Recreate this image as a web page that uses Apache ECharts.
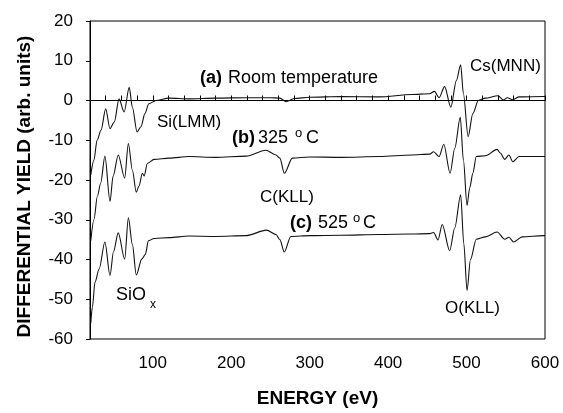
<!DOCTYPE html>
<html>
<head>
<meta charset="utf-8">
<script src="https://cdn.jsdelivr.net/npm/echarts@6/dist/echarts.min.js"></script>
<style>
html,body{margin:0;padding:0;background:#fff;}
#chart{width:563px;height:413px;}
</style>
</head>
<body>
<div id="chart"></div>
<script>
// ---- Data ----
var energyA = [21,25,29,34,40,45.5,51,57,63.5,70,74,80,85,90,95,104,121,146,180,220,250,262,270,280,300,340,389,430,453,459,465,472,480,487,492.5,496,502,508,515,524,540,547,552,559,567,598,600];
var yieldA  = [-18.7,-15,-10,-7.5,-2.1,-7.1,-5.4,0.4,-2.9,3.3,-1.7,-7.9,-6.6,-3.3,-0.8,0,0.6,0.4,0.6,0.7,0.7,0.6,-0.3,0.5,0.8,1.0,0.9,1.5,1.7,2.3,0.7,3.5,-1.7,5,9.0,1.7,-9.1,-3.3,0,0.6,1.2,0.1,0.7,0.2,0.9,1.0,1.0];

var energyB = [21,25,29.4,33.6,39,45.5,49.4,56,64.2,68.9,74,79,82.4,86.8,89,93.2,101.7,121,146,180,219,244,257,262,267.7,278,300,340,389,430,453,458,465,471,479,485,492,496,500.6,504,508,512.4,524,539,543,548.7,554,559,567,598,600];
var yieldB  = [-35.3,-30,-24.1,-20.8,-14,-25.4,-19.1,-13.7,-19.5,-10.8,-17.5,-23.1,-21.5,-18.3,-19,-15.8,-14.8,-14.5,-14.1,-14.3,-14.0,-12.5,-13.7,-14.5,-18.3,-14.5,-14.2,-14.3,-14.1,-13.7,-13.5,-12.9,-14.1,-11.0,-18.3,-12,-4.2,-15,-26.4,-22,-18.3,-14.1,-13.9,-12.3,-13.2,-14.8,-13.7,-15.4,-14.1,-14.1,-14.1];

var energyC = [21,23,26.4,31.6,39,45.5,50,56,64.2,68.9,74,79,86,90.6,94.4,101.7,121,146,180,219,245,257,262,267.7,276,300,340,389,430,453,458,463.6,469,478.5,485,492.5,496.5,500.6,505,512.4,524,539,548.7,554,560,571,598,600];
var yieldC  = [-56,-52,-45.7,-42.4,-35.6,-44,-38,-33.3,-39.9,-29.5,-36.2,-43.9,-39.9,-38.7,-35.3,-34.7,-34.5,-34.1,-34.2,-34.0,-32.6,-33.7,-35,-38.1,-34.2,-34.0,-33.9,-33.7,-33.6,-33.5,-33.2,-35.1,-31.2,-37.8,-32,-23.7,-36,-47.8,-40,-34.9,-34.3,-33.1,-34.9,-34.4,-35.6,-34.3,-34.0,-34.0];

var xMin = 20, xMax = 600, xTickStep = 20, xLabelStep = 100;
var yMin = -60, yMax = 20, yTickStep = 10;

function pairs(xs, ys){ return xs.map(function(x,i){ return [x, ys[i]]; }); }

var FONT = '"Liberation Sans", Arial, sans-serif';
var chart = echarts.init(document.getElementById('chart'), null, {renderer:'canvas'});

function lineSeries(name, xs, ys){
  return {
    name: name, type: 'line', data: pairs(xs, ys),
    showSymbol: false, smooth: 0.3, smoothMonotone: 'x',
    lineStyle: {color: '#111', width: 1.1},
    silent: true, animation: false
  };
}

function txt(left, top, t, size, weight){
  return {type:'text', left:left, top:top, silent:true,
    style:{text:t, fill:'#000', font: (weight||'normal') + ' ' + size + 'px ' + FONT}};
}

chart.setOption({
  animation: false,
  backgroundColor: '#fff',
  grid: {left: 90, right: 18, top: 21, bottom: 71, show: true, borderColor: '#000', borderWidth: 1},
  xAxis: {
    type: 'value', min: xMin, max: xMax, interval: xTickStep,
    axisLine: {lineStyle: {color: '#000', width: 1}},
    axisTick: {inside: true, length: 5, lineStyle: {color: '#000'}},
    axisLabel: {color: '#000', fontSize: 17, fontFamily: FONT, margin: 16,
      formatter: function(v){ return (v % xLabelStep === 0) ? String(v) : ''; }},
    splitLine: {show: false},
    name: 'ENERGY (eV)', nameLocation: 'middle', nameGap: 50,
    nameTextStyle: {color: '#000', fontSize: 19, fontWeight: 'bold', fontFamily: FONT}
  },
  yAxis: {
    type: 'value', min: yMin, max: yMax, interval: yTickStep,
    axisLine: {show: true, lineStyle: {color: '#000', width: 1}},
    axisTick: {show: true, inside: false, length: 4, lineStyle: {color: '#000'}},
    axisLabel: {color: '#000', fontSize: 17, fontFamily: FONT, margin: 17},
    splitLine: {show: false},
    name: 'DIFFERENTIAL YIELD (arb. units)', nameLocation: 'middle', nameGap: 56,
    nameTextStyle: {color: '#000', fontSize: 19, fontWeight: 'bold', fontFamily: FONT, padding: [0, 13, 0, 0]}
  },
  series: [
    lineSeries('(a) Room temperature', energyA, yieldA),
    lineSeries('(b) 325 °C', energyB, yieldB),
    lineSeries('(c) 525 °C', energyC, yieldC)
  ],
  graphic: [
    txt(200, 69, '(a)', 18, 'bold'),
    txt(228, 69, 'Room temperature', 18),
    txt(157, 114, 'Si(LMM)', 17),
    txt(232, 129, '(b)', 18, 'bold'),
    txt(258, 129, '325', 18),
    txt(295, 127, 'o', 13),
    txt(306, 129, 'C', 18),
    txt(260, 189, 'C(KLL)', 17),
    txt(290, 214, '(c)', 18, 'bold'),
    txt(318, 214, '525', 18),
    txt(353, 212, 'o', 13),
    txt(363, 214, 'C', 18),
    txt(470, 58, 'Cs(MNN)', 17),
    txt(445, 300, 'O(KLL)', 17),
    txt(116, 286, 'SiO', 18),
    txt(150, 299, 'x', 12)
  ]
});
</script>
</body>
</html>
